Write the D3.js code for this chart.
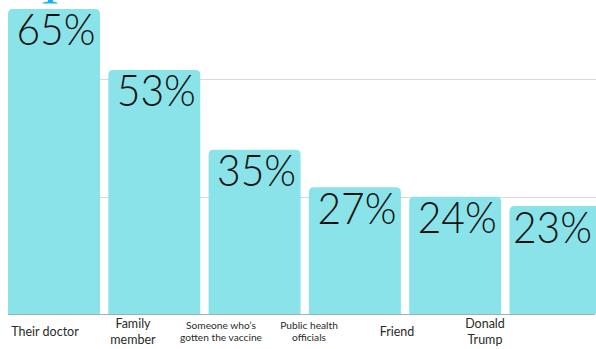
<!doctype html>
<html>
<head>
<meta charset="utf-8">
<script src="https://cdn.jsdelivr.net/npm/d3@7"></script>
<style>
  body { margin: 0; background: #fff; }
  svg { display: block; }
</style>
</head>
<body>
<svg id="chart" width="596" height="349"></svg>
<script>
const categories = ["Their doctor", "Family member", "Someone who’s gotten the vaccine", "Public health officials", "Friend", "Donald Trump"];
// bar heights as drawn (percent)
const shares = [65, 52, 35, 27, 25, 23];
const valueLabels = ["65%", "53%", "35%", "27%", "24%", "23%"];
// category labels split into lines, with a smaller font for the long ones
const labelLines = [["Their doctor"], ["Family", "member"], ["Someone who’s", "gotten the vaccine"], ["Public health", "officials"], ["Friend"], ["Donald", "Trump"]];
const labelSizes = [12.5, 12.5, 10.2, 10.2, 12.5, 12.5];
const gridTicks = [25, 50, 75];

const width = 596;
const svg = d3.select("#chart");
const baseY = 314;

const x = d3.scaleBand()
    .domain(categories)
    .range([8, 601.5])
    .paddingInner(0.083)
    .paddingOuter(0)
    .align(0);

// labels sit on their own, tighter spacing
const xLabel = d3.scaleBand()
    .domain(categories)
    .range([1, 529]);

const y = d3.scaleLinear()
    .domain([0, 75])
    .range([baseY, baseY - 352]);

// gridlines
svg.append("g")
  .selectAll("line")
  .data(gridTicks)
  .join("line")
    .attr("x1", 8)
    .attr("x2", width)
    .attr("y1", d => Math.round(y(d)) + 0.5)
    .attr("y2", d => Math.round(y(d)) + 0.5)
    .attr("stroke", "#d9d9d9")
    .attr("stroke-width", 1);

// bars with rounded top corners
function barPath(d, i) {
  const x0 = x(categories[i]), w = x.bandwidth();
  const top = y(d), r = 5;
  return `M${x0},${baseY}V${top + r}Q${x0},${top} ${x0 + r},${top}H${x0 + w - r}Q${x0 + w},${top} ${x0 + w},${top + r}V${baseY}Z`;
}

svg.append("g")
  .selectAll("path")
  .data(shares)
  .join("path")
    .attr("d", barPath)
    .attr("fill", "#8ae3e8");

// baseline
svg.append("line")
    .attr("x1", 8)
    .attr("x2", 595)
    .attr("y1", baseY + 0.5)
    .attr("y2", baseY + 0.5)
    .attr("stroke", "#9fb0b2")
    .attr("stroke-width", 1.2);

// value labels inside bars, kept inside the frame
const labelW = 79;
svg.append("g")
  .selectAll("text")
  .data(shares)
  .join("text")
    .attr("x", (d, i) => Math.min(x(categories[i]) + x.bandwidth() / 2 + 2, width - 4 - labelW / 2))
    .attr("y", d => y(d) + 36.5)
    .attr("text-anchor", "middle")
    .attr("font-family", "Lato, 'Open Sans', sans-serif")
    .attr("font-weight", 300)
    .attr("font-size", 44)
    .attr("fill", "#111")
    .attr("textLength", labelW)
    .attr("lengthAdjust", "spacingAndGlyphs")
    .text((d, i) => valueLabels[i]);

// category labels
const lab = svg.append("g")
  .selectAll("text")
  .data(categories)
  .join("text")
    .attr("text-anchor", "middle")
    .attr("font-family", "Lato, 'Open Sans', sans-serif")
    .attr("font-size", (d, i) => labelSizes[i])
    .attr("fill", "#2a2a2a");

lab.each(function(d, i) {
  const lines = labelLines[i];
  const cx = xLabel(d) + xLabel.bandwidth() / 2;
  const lh = labelSizes[i] > 12 ? 16.7 : 11.5;
  const cy0 = 331.5 - (lines.length - 1) * lh / 2;
  d3.select(this).selectAll("tspan")
    .data(lines)
    .join("tspan")
      .attr("x", cx)
      .attr("y", (l, j) => cy0 + j * lh)
      .attr("dy", "0.35em")
      .text(l => l);
});

// marker tip peeking in at the top
svg.append("path")
    .attr("d", "M48,0H53V1.5C56,2 57.5,2.5 57.5,3.5H42.5C42.5,2.5 44,2 48,1.5Z")
    .attr("fill", "#18b2f0");
</script>
</body>
</html>
